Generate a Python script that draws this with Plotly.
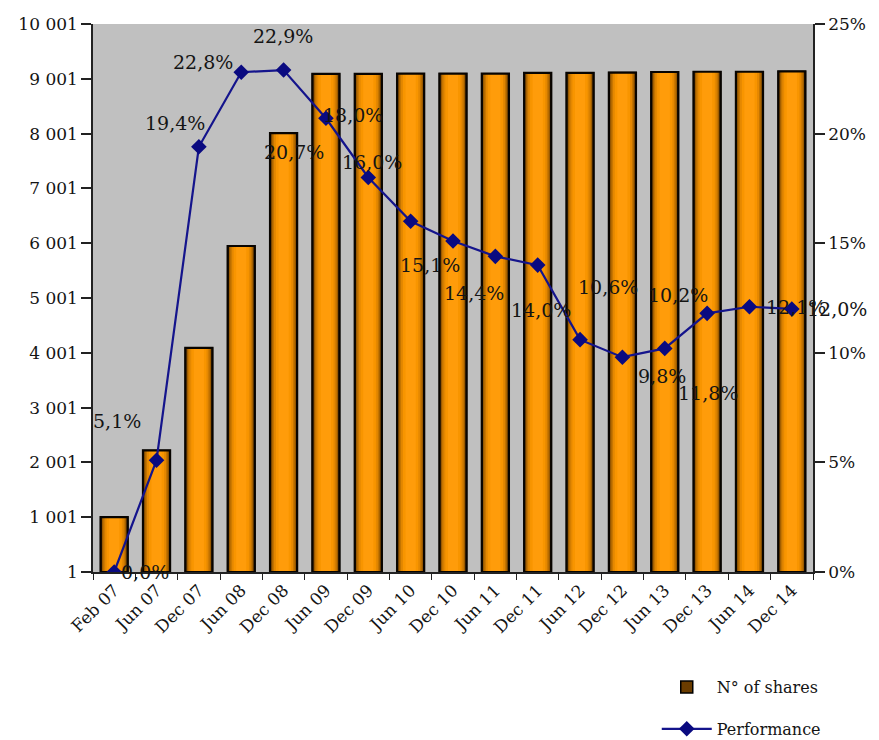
import plotly.graph_objects as go

# Half-yearly observation dates
periods = ["Feb 07", "Jun 07", "Dec 07", "Jun 08", "Dec 08", "Jun 09", "Dec 09",
           "Jun 10", "Dec 10", "Jun 11", "Dec 11", "Jun 12", "Dec 12", "Jun 13",
           "Dec 13", "Jun 14", "Dec 14"]

# Number of shares held
shares = [1001, 2220, 4090, 5950, 8010, 9090, 9090, 9095, 9095, 9095, 9110,
          9110, 9115, 9125, 9130, 9130, 9135]

# Cumulative performance, in percent
performance = [0.0, 5.1, 19.4, 22.8, 22.9, 20.7, 18.0, 16.0, 15.1, 14.4, 14.0,
               10.6, 9.8, 10.2, 11.8, 12.1, 12.0]

# Axis ticks
share_ticks = [1, 1001, 2001, 3001, 4001, 5001, 6001, 7001, 8001, 9001, 10001]
share_tick_labels = ["1", "1 001", "2 001", "3 001", "4 001", "5 001", "6 001",
                     "7 001", "8 001", "9 001", "10 001"]
perf_ticks = [0, 5, 10, 15, 20, 25]
perf_tick_labels = ["0%", "5%", "10%", "15%", "20%", "25%"]

# Pixel offsets of each performance label from its point (dx, dy)
label_shift = [(31, 0), (-40, 39), (-24, 24), (-38, 10), (-1, 34), (-32, -34),
               (-15, 62), (-39, 59), (-23, -24), (-21, -37), (3, -45),
               (28, 53), (40, -19), (13, 53), (1, -80), (47, 0), (45, 0)]

FONT = "DejaVu Serif"
TEXT = "#141414"

fig = go.Figure()

# Bars are stacked in layers of decreasing width to give a shaded cylinder look
bar_layers = [(0.64, "#6a3c00"), (0.58, "#9a5a00"), (0.52, "#c47400"),
              (0.45, "#e58800"), (0.36, "#f89500"), (0.24, "#ff9c0a")]
for i, (w, col) in enumerate(bar_layers):
    fig.add_trace(go.Bar(
        x=periods, y=shares, width=w, name="N° of shares",
        marker=dict(color=col, line=dict(width=1.5 if i == 0 else 0, color="#000000")),
        showlegend=(i == 0), legendgroup="shares",
    ))
# Outline on top
fig.add_trace(go.Bar(
    x=periods, y=shares, width=0.64, showlegend=False, legendgroup="shares",
    marker=dict(color="rgba(0,0,0,0)", line=dict(width=2.2, color="#080400")),
    hoverinfo="skip",
))

fig.add_trace(go.Scatter(
    x=periods, y=performance, yaxis="y2", name="Performance", mode="lines+markers",
    line=dict(color="#14148c", width=2.2),
    marker=dict(symbol="diamond", size=12, color="#0a0a80"),
    legendgroup="perf",
))

annotations = []
for p, v, (dx, dy) in zip(periods, performance, label_shift):
    annotations.append(dict(
        x=p, y=v, xref="x", yref="y2", showarrow=False,
        text=f"{v:.1f}".replace(".", ",") + "%",
        xshift=dx, yshift=dy,
        font=dict(family=FONT, size=19, color=TEXT),
    ))

axis_font = dict(family=FONT, size=17, color=TEXT)

fig.update_layout(
    width=879, height=740,
    margin=dict(l=93, r=66, t=24, b=168, autoexpand=False),
    paper_bgcolor="#ffffff", plot_bgcolor="#c0c0c0",
    barmode="overlay",
    font=dict(family=FONT, size=17, color=TEXT),
    annotations=annotations,
    xaxis=dict(
        type="category", tickangle=-45, tickson="boundaries",
        ticks="outside", ticklen=6, tickcolor="#222", tickwidth=1.3,
        showline=True, linecolor="#222", linewidth=1.5,
        showgrid=False, tickfont=axis_font, automargin=False,
        range=[-0.5, len(periods) - 0.5],
    ),
    yaxis=dict(
        range=[1, 10001], tickvals=share_ticks, ticktext=share_tick_labels,
        ticks="outside", ticklen=10, tickcolor="#222", tickwidth=1.5,
        showline=True, linecolor="#222", linewidth=1.5,
        showgrid=False, zeroline=False, automargin=False,
        tickfont=axis_font,
    ),
    yaxis2=dict(
        overlaying="y", side="right", range=[0, 25],
        tickvals=perf_ticks, ticktext=perf_tick_labels,
        ticks="outside", ticklen=10, tickcolor="#222", tickwidth=1.5,
        showline=True, linecolor="#222", linewidth=1.5,
        showgrid=False, zeroline=False, automargin=False,
        tickfont=axis_font,
    ),
    legend=dict(
        x=0.783, y=-0.179, xanchor="left", yanchor="top",
        traceorder="grouped", tracegroupgap=18, itemwidth=50,
        bgcolor="rgba(0,0,0,0)",
        font=dict(family=FONT, size=16, color=TEXT),
    ),
)

fig.write_html("out.html")
